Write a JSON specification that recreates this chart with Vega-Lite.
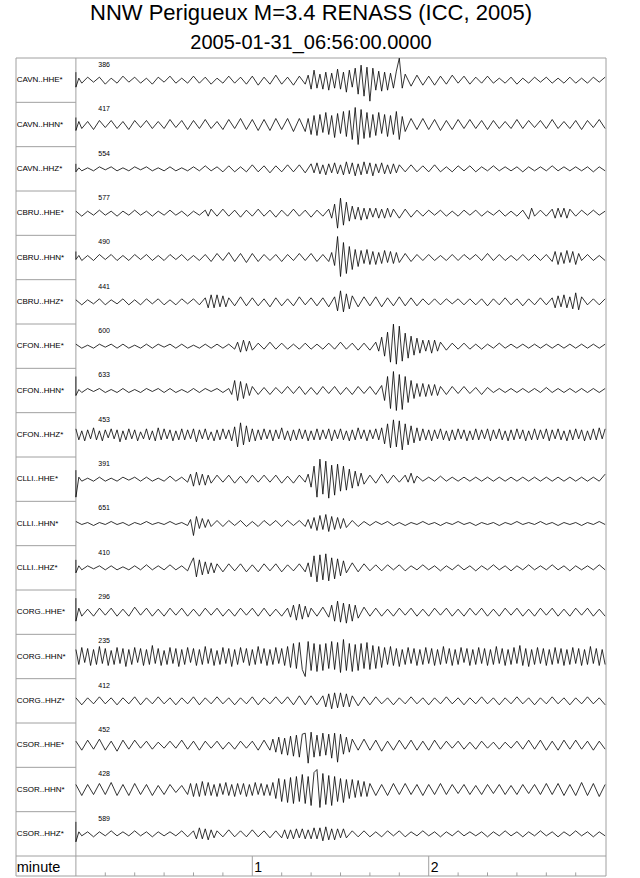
{
  "$schema": "https://vega.github.io/schema/vega-lite/v6.json",
  "width": 590,
  "height": 818,
  "autosize": {"type": "none"},
  "padding": {"left": 16, "top": 58, "right": 34, "bottom": 2},
  "background": "white",
  "title": {
    "text": "NNW Perigueux M=3.4 RENASS (ICC, 2005)",
    "subtitle": "2005-01-31_06:56:00.0000",
    "font": "Liberation Sans",
    "subtitleFont": "Liberation Sans",
    "fontSize": 22,
    "subtitleFontSize": 20,
    "fontWeight": "normal",
    "color": "#000",
    "subtitleColor": "#000",
    "anchor": "middle",
    "frame": "group",
    "offset": 4,
    "subtitlePadding": 8
  },
  "datasets": {
    "labels": [
      {"row": 0, "name": "CAVN..HHE*", "n": "386"},
      {"row": 1, "name": "CAVN..HHN*", "n": "417"},
      {"row": 2, "name": "CAVN..HHZ*", "n": "554"},
      {"row": 3, "name": "CBRU..HHE*", "n": "577"},
      {"row": 4, "name": "CBRU..HHN*", "n": "490"},
      {"row": 5, "name": "CBRU..HHZ*", "n": "441"},
      {"row": 6, "name": "CFON..HHE*", "n": "600"},
      {"row": 7, "name": "CFON..HHN*", "n": "633"},
      {"row": 8, "name": "CFON..HHZ*", "n": "453"},
      {"row": 9, "name": "CLLI..HHE*", "n": "391"},
      {"row": 10, "name": "CLLI..HHN*", "n": "651"},
      {"row": 11, "name": "CLLI..HHZ*", "n": "410"},
      {"row": 12, "name": "CORG..HHE*", "n": "296"},
      {"row": 13, "name": "CORG..HHN*", "n": "235"},
      {"row": 14, "name": "CORG..HHZ*", "n": "412"},
      {"row": 15, "name": "CSOR..HHE*", "n": "452"},
      {"row": 16, "name": "CSOR..HHN*", "n": "428"},
      {"row": 17, "name": "CSOR..HHZ*", "n": "589"}
    ],
    "minutes": [{"s": 60, "lab": "1"}, {"s": 120, "lab": "2"}],
    "ticks": [{"s": 10}, {"s": 20}, {"s": 30}, {"s": 40}, {"s": 50}, {"s": 70}, {"s": 80}, {"s": 90}, {"s": 100}, {"s": 110}, {"s": 130}, {"s": 140}, {"s": 150}, {"s": 160}, {"s": 170}],
    "d0": [{"t":0,"v":8},{"t":0,"v":-7},{"t":1,"v":2},{"t":2,"v":-3},{"t":4,"v":3},{"t":6,"v":-2},{"t":8,"v":3},{"t":10,"v":-4},{"t":12,"v":2},{"t":14,"v":-3},{"t":16,"v":4},{"t":18,"v":-2},{"t":20,"v":3},{"t":22,"v":-3},{"t":24,"v":2},{"t":26,"v":-4},{"t":28,"v":3},{"t":30,"v":-2},{"t":32,"v":4},{"t":34,"v":-3},{"t":36,"v":2},{"t":38,"v":-3},{"t":40,"v":4},{"t":42,"v":-3},{"t":44,"v":3},{"t":46,"v":-4},{"t":48,"v":2},{"t":50,"v":-3},{"t":52,"v":4},{"t":54,"v":-3},{"t":56,"v":3},{"t":58,"v":-4},{"t":60,"v":4},{"t":62,"v":-5},{"t":64,"v":3},{"t":66,"v":-4},{"t":68,"v":5},{"t":70,"v":-4},{"t":72,"v":3},{"t":74,"v":-5},{"t":76,"v":4},{"t":78,"v":-4},{"t":79,"v":5},{"t":80,"v":-9},{"t":81,"v":10},{"t":82,"v":-8},{"t":83,"v":6},{"t":84,"v":-9},{"t":85,"v":8},{"t":86,"v":-10},{"t":87,"v":7},{"t":88,"v":-8},{"t":89,"v":11},{"t":90,"v":-9},{"t":91,"v":8},{"t":92,"v":-12},{"t":93,"v":10},{"t":94,"v":-7},{"t":95,"v":12},{"t":96,"v":-14},{"t":97,"v":15},{"t":98,"v":-16},{"t":99,"v":13},{"t":100,"v":-21},{"t":101,"v":12},{"t":102,"v":-10},{"t":103,"v":9},{"t":104,"v":-11},{"t":105,"v":8},{"t":106,"v":-10},{"t":107,"v":7},{"t":108,"v":-8},{"t":109,"v":9},{"t":110,"v":22},{"t":111,"v":-8},{"t":112,"v":6},{"t":114,"v":-6},{"t":116,"v":5},{"t":118,"v":-5},{"t":120,"v":4},{"t":122,"v":-5},{"t":124,"v":4},{"t":126,"v":-4},{"t":128,"v":5},{"t":130,"v":-3},{"t":132,"v":4},{"t":134,"v":-4},{"t":136,"v":3},{"t":138,"v":-3},{"t":140,"v":4},{"t":142,"v":-3},{"t":144,"v":2},{"t":146,"v":-3},{"t":148,"v":3},{"t":150,"v":-4},{"t":152,"v":2},{"t":154,"v":-3},{"t":156,"v":3},{"t":158,"v":-2},{"t":160,"v":3},{"t":162,"v":-3},{"t":164,"v":2},{"t":166,"v":-3},{"t":168,"v":3},{"t":170,"v":-3},{"t":172,"v":2},{"t":174,"v":-3},{"t":176,"v":3},{"t":178,"v":-2},{"t":180,"v":3}],
    "d1": [{"t":0,"v":7},{"t":0,"v":-6},{"t":1,"v":3},{"t":2,"v":-4},{"t":4,"v":3},{"t":6,"v":-5},{"t":8,"v":4},{"t":10,"v":-3},{"t":12,"v":4},{"t":14,"v":-4},{"t":16,"v":3},{"t":18,"v":-5},{"t":20,"v":4},{"t":22,"v":-3},{"t":24,"v":4},{"t":26,"v":-4},{"t":28,"v":3},{"t":30,"v":-4},{"t":32,"v":5},{"t":34,"v":-3},{"t":36,"v":4},{"t":38,"v":-5},{"t":40,"v":4},{"t":42,"v":-4},{"t":44,"v":5},{"t":46,"v":-4},{"t":48,"v":3},{"t":50,"v":-5},{"t":52,"v":5},{"t":54,"v":-4},{"t":56,"v":6},{"t":58,"v":-5},{"t":60,"v":5},{"t":62,"v":-6},{"t":64,"v":5},{"t":66,"v":-6},{"t":68,"v":6},{"t":70,"v":-5},{"t":72,"v":6},{"t":74,"v":-7},{"t":76,"v":6},{"t":78,"v":-7},{"t":79,"v":6},{"t":80,"v":-10},{"t":81,"v":9},{"t":82,"v":-11},{"t":83,"v":10},{"t":84,"v":-8},{"t":85,"v":12},{"t":86,"v":-10},{"t":87,"v":9},{"t":88,"v":-13},{"t":89,"v":11},{"t":90,"v":-9},{"t":91,"v":13},{"t":92,"v":-12},{"t":93,"v":14},{"t":94,"v":-15},{"t":95,"v":17},{"t":96,"v":-20},{"t":97,"v":15},{"t":98,"v":-14},{"t":99,"v":12},{"t":100,"v":-13},{"t":101,"v":10},{"t":102,"v":-11},{"t":103,"v":12},{"t":104,"v":-9},{"t":105,"v":10},{"t":106,"v":-12},{"t":107,"v":9},{"t":108,"v":-10},{"t":109,"v":13},{"t":110,"v":-15},{"t":111,"v":8},{"t":112,"v":-7},{"t":114,"v":6},{"t":116,"v":-5},{"t":118,"v":6},{"t":120,"v":-5},{"t":122,"v":5},{"t":124,"v":-6},{"t":126,"v":4},{"t":128,"v":-5},{"t":130,"v":5},{"t":132,"v":-4},{"t":134,"v":5},{"t":136,"v":-4},{"t":138,"v":4},{"t":140,"v":-5},{"t":142,"v":4},{"t":144,"v":-4},{"t":146,"v":3},{"t":148,"v":-4},{"t":150,"v":5},{"t":152,"v":-4},{"t":154,"v":4},{"t":156,"v":-3},{"t":158,"v":4},{"t":160,"v":-4},{"t":162,"v":5},{"t":164,"v":-4},{"t":166,"v":3},{"t":168,"v":-4},{"t":170,"v":4},{"t":172,"v":-5},{"t":174,"v":4},{"t":176,"v":-3},{"t":178,"v":5},{"t":180,"v":-4}],
    "d2": [{"t":0,"v":5},{"t":0,"v":-3},{"t":1,"v":1},{"t":2,"v":-2},{"t":4,"v":1},{"t":6,"v":-2},{"t":8,"v":2},{"t":10,"v":-1},{"t":12,"v":2},{"t":14,"v":-2},{"t":16,"v":1},{"t":18,"v":-2},{"t":20,"v":2},{"t":22,"v":-1},{"t":24,"v":2},{"t":26,"v":-2},{"t":28,"v":1},{"t":30,"v":-2},{"t":32,"v":2},{"t":34,"v":-2},{"t":36,"v":1},{"t":38,"v":-2},{"t":40,"v":2},{"t":42,"v":-2},{"t":44,"v":3},{"t":46,"v":-2},{"t":48,"v":2},{"t":50,"v":-3},{"t":52,"v":3},{"t":54,"v":-3},{"t":56,"v":2},{"t":58,"v":-3},{"t":60,"v":4},{"t":62,"v":-3},{"t":64,"v":3},{"t":66,"v":-4},{"t":68,"v":3},{"t":70,"v":-3},{"t":72,"v":4},{"t":74,"v":-3},{"t":76,"v":4},{"t":78,"v":-4},{"t":80,"v":5},{"t":81,"v":-4},{"t":82,"v":6},{"t":83,"v":-5},{"t":84,"v":4},{"t":85,"v":-6},{"t":86,"v":5},{"t":87,"v":-4},{"t":88,"v":6},{"t":89,"v":-5},{"t":90,"v":4},{"t":91,"v":-6},{"t":92,"v":7},{"t":93,"v":-5},{"t":94,"v":6},{"t":95,"v":-7},{"t":96,"v":5},{"t":97,"v":-6},{"t":98,"v":7},{"t":99,"v":-5},{"t":100,"v":6},{"t":101,"v":-7},{"t":102,"v":5},{"t":103,"v":-4},{"t":104,"v":6},{"t":105,"v":-5},{"t":106,"v":4},{"t":107,"v":-5},{"t":108,"v":5},{"t":109,"v":-4},{"t":110,"v":4},{"t":112,"v":-3},{"t":114,"v":4},{"t":116,"v":-3},{"t":118,"v":3},{"t":120,"v":-3},{"t":122,"v":4},{"t":124,"v":-3},{"t":126,"v":2},{"t":128,"v":-3},{"t":130,"v":3},{"t":132,"v":-2},{"t":134,"v":3},{"t":136,"v":-3},{"t":138,"v":2},{"t":140,"v":-2},{"t":142,"v":3},{"t":144,"v":-2},{"t":146,"v":2},{"t":148,"v":-2},{"t":150,"v":2},{"t":152,"v":-3},{"t":154,"v":2},{"t":156,"v":-2},{"t":158,"v":2},{"t":160,"v":-2},{"t":162,"v":3},{"t":164,"v":-2},{"t":166,"v":2},{"t":168,"v":-2},{"t":170,"v":2},{"t":172,"v":-2},{"t":174,"v":2},{"t":176,"v":-3},{"t":178,"v":2},{"t":180,"v":-2}],
    "d3": [{"t":0,"v":2},{"t":2,"v":-3},{"t":4,"v":2},{"t":6,"v":-2},{"t":8,"v":3},{"t":10,"v":-2},{"t":12,"v":2},{"t":14,"v":-3},{"t":16,"v":2},{"t":18,"v":-2},{"t":20,"v":3},{"t":22,"v":-2},{"t":24,"v":2},{"t":26,"v":-3},{"t":28,"v":2},{"t":30,"v":-2},{"t":32,"v":3},{"t":34,"v":-2},{"t":36,"v":2},{"t":38,"v":-3},{"t":40,"v":2},{"t":42,"v":-2},{"t":44,"v":3},{"t":45,"v":-3},{"t":46,"v":4},{"t":48,"v":-3},{"t":50,"v":4},{"t":52,"v":-3},{"t":54,"v":3},{"t":56,"v":-4},{"t":58,"v":3},{"t":60,"v":-3},{"t":62,"v":4},{"t":64,"v":-3},{"t":66,"v":3},{"t":68,"v":-4},{"t":70,"v":3},{"t":72,"v":-3},{"t":74,"v":4},{"t":76,"v":-3},{"t":78,"v":3},{"t":80,"v":-4},{"t":82,"v":3},{"t":84,"v":-3},{"t":86,"v":4},{"t":87,"v":-5},{"t":88,"v":9},{"t":89,"v":-15},{"t":90,"v":15},{"t":91,"v":-12},{"t":92,"v":11},{"t":93,"v":-8},{"t":94,"v":7},{"t":95,"v":-6},{"t":96,"v":6},{"t":97,"v":-7},{"t":98,"v":5},{"t":99,"v":-6},{"t":100,"v":5},{"t":101,"v":-4},{"t":102,"v":5},{"t":103,"v":-5},{"t":104,"v":4},{"t":105,"v":-5},{"t":106,"v":5},{"t":107,"v":-4},{"t":108,"v":4},{"t":110,"v":-5},{"t":112,"v":4},{"t":114,"v":-4},{"t":116,"v":3},{"t":118,"v":-3},{"t":120,"v":3},{"t":122,"v":-2},{"t":124,"v":3},{"t":126,"v":-3},{"t":128,"v":2},{"t":130,"v":-3},{"t":132,"v":3},{"t":134,"v":-2},{"t":136,"v":3},{"t":138,"v":-3},{"t":140,"v":2},{"t":142,"v":-2},{"t":144,"v":3},{"t":146,"v":-3},{"t":148,"v":2},{"t":150,"v":-3},{"t":152,"v":3},{"t":154,"v":-6},{"t":155,"v":5},{"t":156,"v":-3},{"t":158,"v":3},{"t":160,"v":-3},{"t":162,"v":4},{"t":163,"v":-5},{"t":164,"v":5},{"t":165,"v":-4},{"t":166,"v":5},{"t":167,"v":-5},{"t":168,"v":4},{"t":170,"v":-3},{"t":172,"v":3},{"t":174,"v":-2},{"t":176,"v":3},{"t":178,"v":-2},{"t":180,"v":2}],
    "d4": [{"t":0,"v":6},{"t":0,"v":-2},{"t":1,"v":2},{"t":2,"v":-3},{"t":4,"v":2},{"t":6,"v":-3},{"t":8,"v":3},{"t":10,"v":-2},{"t":12,"v":3},{"t":14,"v":-3},{"t":16,"v":2},{"t":18,"v":-3},{"t":20,"v":3},{"t":22,"v":-2},{"t":24,"v":3},{"t":26,"v":-3},{"t":28,"v":2},{"t":30,"v":-3},{"t":32,"v":3},{"t":34,"v":-2},{"t":36,"v":3},{"t":38,"v":-3},{"t":40,"v":2},{"t":42,"v":-3},{"t":44,"v":3},{"t":46,"v":-4},{"t":48,"v":4},{"t":50,"v":-3},{"t":52,"v":5},{"t":54,"v":-4},{"t":56,"v":4},{"t":58,"v":-5},{"t":60,"v":4},{"t":62,"v":-4},{"t":64,"v":3},{"t":66,"v":-3},{"t":68,"v":3},{"t":70,"v":-4},{"t":72,"v":3},{"t":74,"v":-3},{"t":76,"v":4},{"t":78,"v":-3},{"t":80,"v":4},{"t":82,"v":-4},{"t":84,"v":3},{"t":86,"v":-4},{"t":87,"v":5},{"t":88,"v":-8},{"t":89,"v":21},{"t":90,"v":-19},{"t":91,"v":15},{"t":92,"v":-16},{"t":93,"v":11},{"t":94,"v":-12},{"t":95,"v":8},{"t":96,"v":-9},{"t":97,"v":7},{"t":98,"v":-6},{"t":99,"v":8},{"t":100,"v":-7},{"t":101,"v":6},{"t":102,"v":-7},{"t":103,"v":5},{"t":104,"v":-6},{"t":105,"v":7},{"t":106,"v":-5},{"t":107,"v":6},{"t":108,"v":-6},{"t":109,"v":5},{"t":110,"v":-5},{"t":112,"v":4},{"t":114,"v":-4},{"t":116,"v":3},{"t":118,"v":-3},{"t":120,"v":3},{"t":122,"v":-3},{"t":124,"v":2},{"t":126,"v":-3},{"t":128,"v":3},{"t":130,"v":-3},{"t":132,"v":3},{"t":134,"v":-2},{"t":136,"v":3},{"t":138,"v":-3},{"t":140,"v":4},{"t":142,"v":-3},{"t":144,"v":3},{"t":146,"v":-3},{"t":148,"v":2},{"t":150,"v":-3},{"t":152,"v":3},{"t":154,"v":-3},{"t":156,"v":3},{"t":158,"v":-3},{"t":160,"v":3},{"t":162,"v":-4},{"t":163,"v":6},{"t":164,"v":-7},{"t":165,"v":5},{"t":166,"v":-6},{"t":167,"v":7},{"t":168,"v":-5},{"t":169,"v":6},{"t":170,"v":-7},{"t":171,"v":4},{"t":172,"v":-3},{"t":174,"v":3},{"t":176,"v":-3},{"t":178,"v":2},{"t":180,"v":-3}],
    "d5": [{"t":0,"v":2},{"t":2,"v":-3},{"t":4,"v":2},{"t":6,"v":-2},{"t":8,"v":3},{"t":10,"v":-3},{"t":12,"v":2},{"t":14,"v":-2},{"t":16,"v":3},{"t":18,"v":-3},{"t":20,"v":2},{"t":22,"v":-3},{"t":24,"v":3},{"t":26,"v":-2},{"t":28,"v":3},{"t":30,"v":-3},{"t":32,"v":2},{"t":34,"v":-3},{"t":36,"v":3},{"t":38,"v":-2},{"t":40,"v":3},{"t":42,"v":-3},{"t":44,"v":4},{"t":45,"v":-6},{"t":46,"v":7},{"t":47,"v":-6},{"t":48,"v":7},{"t":49,"v":-5},{"t":50,"v":6},{"t":51,"v":-5},{"t":52,"v":4},{"t":54,"v":-4},{"t":56,"v":5},{"t":58,"v":-4},{"t":60,"v":4},{"t":62,"v":-4},{"t":64,"v":3},{"t":66,"v":-5},{"t":68,"v":4},{"t":70,"v":-4},{"t":72,"v":3},{"t":74,"v":-4},{"t":76,"v":5},{"t":78,"v":-3},{"t":80,"v":4},{"t":82,"v":-4},{"t":84,"v":4},{"t":86,"v":-5},{"t":88,"v":5},{"t":89,"v":-9},{"t":90,"v":11},{"t":91,"v":-10},{"t":92,"v":8},{"t":93,"v":-7},{"t":94,"v":6},{"t":96,"v":-5},{"t":98,"v":5},{"t":100,"v":-4},{"t":102,"v":5},{"t":104,"v":-5},{"t":106,"v":4},{"t":108,"v":-4},{"t":110,"v":5},{"t":112,"v":-4},{"t":114,"v":4},{"t":116,"v":-4},{"t":118,"v":3},{"t":120,"v":-3},{"t":122,"v":3},{"t":124,"v":-3},{"t":126,"v":3},{"t":128,"v":-2},{"t":130,"v":3},{"t":132,"v":-3},{"t":134,"v":3},{"t":136,"v":-3},{"t":138,"v":3},{"t":140,"v":-4},{"t":142,"v":3},{"t":144,"v":-3},{"t":146,"v":4},{"t":148,"v":-3},{"t":150,"v":3},{"t":152,"v":-4},{"t":154,"v":3},{"t":156,"v":-3},{"t":158,"v":4},{"t":160,"v":-3},{"t":162,"v":4},{"t":163,"v":-6},{"t":164,"v":6},{"t":165,"v":-5},{"t":166,"v":7},{"t":167,"v":-6},{"t":168,"v":5},{"t":169,"v":-7},{"t":170,"v":9},{"t":171,"v":-8},{"t":172,"v":5},{"t":174,"v":-3},{"t":176,"v":3},{"t":178,"v":-3},{"t":180,"v":3}],
    "d6": [{"t":0,"v":2},{"t":2,"v":-2},{"t":4,"v":1},{"t":6,"v":-2},{"t":8,"v":2},{"t":10,"v":-1},{"t":12,"v":2},{"t":14,"v":-2},{"t":16,"v":2},{"t":18,"v":-2},{"t":20,"v":1},{"t":22,"v":-2},{"t":24,"v":2},{"t":26,"v":-2},{"t":28,"v":2},{"t":30,"v":-1},{"t":32,"v":2},{"t":34,"v":-2},{"t":36,"v":2},{"t":38,"v":-2},{"t":40,"v":1},{"t":42,"v":-2},{"t":44,"v":2},{"t":46,"v":-2},{"t":48,"v":2},{"t":50,"v":-2},{"t":52,"v":2},{"t":54,"v":-3},{"t":55,"v":4},{"t":56,"v":-6},{"t":57,"v":6},{"t":58,"v":-5},{"t":59,"v":5},{"t":60,"v":-4},{"t":62,"v":3},{"t":64,"v":-3},{"t":66,"v":4},{"t":68,"v":-3},{"t":70,"v":3},{"t":72,"v":-3},{"t":74,"v":2},{"t":76,"v":-3},{"t":78,"v":3},{"t":80,"v":-3},{"t":82,"v":2},{"t":84,"v":-3},{"t":86,"v":3},{"t":88,"v":-3},{"t":90,"v":4},{"t":92,"v":-3},{"t":94,"v":3},{"t":96,"v":-4},{"t":98,"v":3},{"t":100,"v":-4},{"t":102,"v":4},{"t":103,"v":-5},{"t":104,"v":9},{"t":105,"v":-10},{"t":106,"v":14},{"t":107,"v":-16},{"t":108,"v":22},{"t":109,"v":-18},{"t":110,"v":20},{"t":111,"v":-15},{"t":112,"v":13},{"t":113,"v":-12},{"t":114,"v":10},{"t":115,"v":-9},{"t":116,"v":8},{"t":117,"v":-7},{"t":118,"v":6},{"t":119,"v":-5},{"t":120,"v":6},{"t":121,"v":-7},{"t":122,"v":6},{"t":123,"v":-5},{"t":124,"v":4},{"t":126,"v":-4},{"t":128,"v":3},{"t":130,"v":-3},{"t":132,"v":3},{"t":134,"v":-3},{"t":136,"v":2},{"t":138,"v":-3},{"t":140,"v":2},{"t":142,"v":-2},{"t":144,"v":3},{"t":146,"v":-2},{"t":148,"v":2},{"t":150,"v":-2},{"t":152,"v":2},{"t":154,"v":-2},{"t":156,"v":2},{"t":158,"v":-2},{"t":160,"v":2},{"t":162,"v":-2},{"t":164,"v":2},{"t":166,"v":-2},{"t":168,"v":2},{"t":170,"v":-2},{"t":172,"v":2},{"t":174,"v":-2},{"t":176,"v":2},{"t":178,"v":-2},{"t":180,"v":2}],
    "d7": [{"t":0,"v":14},{"t":0,"v":-5},{"t":1,"v":1},{"t":2,"v":-2},{"t":4,"v":2},{"t":6,"v":-1},{"t":8,"v":2},{"t":10,"v":-2},{"t":12,"v":1},{"t":14,"v":-2},{"t":16,"v":2},{"t":18,"v":-2},{"t":20,"v":1},{"t":22,"v":-2},{"t":24,"v":2},{"t":26,"v":-1},{"t":28,"v":2},{"t":30,"v":-2},{"t":32,"v":2},{"t":34,"v":-2},{"t":36,"v":1},{"t":38,"v":-2},{"t":40,"v":2},{"t":42,"v":-2},{"t":44,"v":2},{"t":46,"v":-1},{"t":48,"v":2},{"t":50,"v":-2},{"t":52,"v":2},{"t":53,"v":-4},{"t":54,"v":10},{"t":55,"v":-10},{"t":56,"v":9},{"t":57,"v":-8},{"t":58,"v":7},{"t":59,"v":-5},{"t":60,"v":4},{"t":62,"v":-4},{"t":64,"v":3},{"t":66,"v":-4},{"t":68,"v":3},{"t":70,"v":-3},{"t":72,"v":4},{"t":74,"v":-3},{"t":76,"v":4},{"t":78,"v":-4},{"t":80,"v":3},{"t":82,"v":-4},{"t":84,"v":4},{"t":86,"v":-3},{"t":88,"v":4},{"t":90,"v":-4},{"t":92,"v":3},{"t":94,"v":-4},{"t":96,"v":4},{"t":98,"v":-3},{"t":100,"v":4},{"t":102,"v":-4},{"t":104,"v":5},{"t":105,"v":-10},{"t":106,"v":14},{"t":107,"v":-18},{"t":108,"v":19},{"t":109,"v":-20},{"t":110,"v":16},{"t":111,"v":-19},{"t":112,"v":14},{"t":113,"v":-12},{"t":114,"v":10},{"t":115,"v":-8},{"t":116,"v":7},{"t":117,"v":-6},{"t":118,"v":7},{"t":119,"v":-6},{"t":120,"v":6},{"t":121,"v":-5},{"t":122,"v":6},{"t":123,"v":-5},{"t":124,"v":4},{"t":126,"v":-4},{"t":128,"v":4},{"t":130,"v":-3},{"t":132,"v":4},{"t":134,"v":-3},{"t":136,"v":3},{"t":138,"v":-4},{"t":140,"v":3},{"t":142,"v":-2},{"t":144,"v":2},{"t":146,"v":-2},{"t":148,"v":2},{"t":150,"v":-2},{"t":152,"v":2},{"t":154,"v":-2},{"t":156,"v":2},{"t":158,"v":-2},{"t":160,"v":3},{"t":162,"v":-2},{"t":164,"v":2},{"t":166,"v":-2},{"t":168,"v":2},{"t":170,"v":-2},{"t":172,"v":2},{"t":174,"v":-2},{"t":176,"v":2},{"t":178,"v":-2},{"t":180,"v":2}],
    "d8": [{"t":0,"v":6},{"t":1,"v":-5},{"t":2,"v":4},{"t":3,"v":-6},{"t":4,"v":5},{"t":5,"v":-4},{"t":6,"v":7},{"t":7,"v":-5},{"t":8,"v":4},{"t":9,"v":-6},{"t":10,"v":5},{"t":11,"v":-3},{"t":12,"v":6},{"t":13,"v":-4},{"t":14,"v":5},{"t":15,"v":-7},{"t":16,"v":4},{"t":17,"v":-5},{"t":18,"v":6},{"t":19,"v":-4},{"t":20,"v":5},{"t":21,"v":-6},{"t":22,"v":3},{"t":23,"v":-4},{"t":24,"v":6},{"t":25,"v":-5},{"t":26,"v":4},{"t":27,"v":-6},{"t":28,"v":7},{"t":29,"v":-5},{"t":30,"v":6},{"t":31,"v":-4},{"t":32,"v":5},{"t":33,"v":-6},{"t":34,"v":4},{"t":35,"v":-5},{"t":36,"v":6},{"t":37,"v":-5},{"t":38,"v":5},{"t":39,"v":-4},{"t":40,"v":6},{"t":41,"v":-7},{"t":42,"v":5},{"t":43,"v":-4},{"t":44,"v":6},{"t":45,"v":-5},{"t":46,"v":3},{"t":47,"v":-6},{"t":48,"v":5},{"t":49,"v":-5},{"t":50,"v":6},{"t":51,"v":-4},{"t":52,"v":5},{"t":53,"v":-6},{"t":54,"v":8},{"t":55,"v":-12},{"t":56,"v":12},{"t":57,"v":-10},{"t":58,"v":9},{"t":59,"v":-7},{"t":60,"v":6},{"t":61,"v":-6},{"t":62,"v":5},{"t":63,"v":-5},{"t":64,"v":6},{"t":65,"v":-4},{"t":66,"v":5},{"t":67,"v":-6},{"t":68,"v":5},{"t":69,"v":-4},{"t":70,"v":7},{"t":71,"v":-5},{"t":72,"v":4},{"t":73,"v":-6},{"t":74,"v":5},{"t":75,"v":-5},{"t":76,"v":6},{"t":77,"v":-4},{"t":78,"v":5},{"t":79,"v":-6},{"t":80,"v":4},{"t":81,"v":-5},{"t":82,"v":6},{"t":83,"v":-5},{"t":84,"v":5},{"t":85,"v":-4},{"t":86,"v":6},{"t":87,"v":-6},{"t":88,"v":5},{"t":89,"v":-4},{"t":90,"v":6},{"t":91,"v":-5},{"t":92,"v":4},{"t":93,"v":-6},{"t":94,"v":5},{"t":95,"v":-5},{"t":96,"v":7},{"t":97,"v":-4},{"t":98,"v":5},{"t":99,"v":-6},{"t":100,"v":5},{"t":101,"v":-4},{"t":102,"v":6},{"t":103,"v":-5},{"t":104,"v":7},{"t":105,"v":-9},{"t":106,"v":11},{"t":107,"v":-13},{"t":108,"v":15},{"t":109,"v":-12},{"t":110,"v":14},{"t":111,"v":-15},{"t":112,"v":11},{"t":113,"v":-10},{"t":114,"v":9},{"t":115,"v":-8},{"t":116,"v":7},{"t":117,"v":-6},{"t":118,"v":6},{"t":119,"v":-5},{"t":120,"v":5},{"t":121,"v":-6},{"t":122,"v":5},{"t":123,"v":-4},{"t":124,"v":6},{"t":125,"v":-5},{"t":126,"v":4},{"t":127,"v":-6},{"t":128,"v":5},{"t":129,"v":-5},{"t":130,"v":6},{"t":131,"v":-4},{"t":132,"v":5},{"t":133,"v":-6},{"t":134,"v":4},{"t":135,"v":-5},{"t":136,"v":6},{"t":137,"v":-5},{"t":138,"v":5},{"t":139,"v":-4},{"t":140,"v":6},{"t":141,"v":-6},{"t":142,"v":5},{"t":143,"v":-4},{"t":144,"v":6},{"t":145,"v":-5},{"t":146,"v":4},{"t":147,"v":-6},{"t":148,"v":5},{"t":149,"v":-5},{"t":150,"v":6},{"t":151,"v":-4},{"t":152,"v":5},{"t":153,"v":-6},{"t":154,"v":4},{"t":155,"v":-5},{"t":156,"v":6},{"t":157,"v":-5},{"t":158,"v":5},{"t":159,"v":-4},{"t":160,"v":6},{"t":161,"v":-6},{"t":162,"v":5},{"t":163,"v":-4},{"t":164,"v":6},{"t":165,"v":-5},{"t":166,"v":4},{"t":167,"v":-6},{"t":168,"v":5},{"t":169,"v":-5},{"t":170,"v":6},{"t":171,"v":-4},{"t":172,"v":5},{"t":173,"v":-6},{"t":174,"v":4},{"t":175,"v":-5},{"t":176,"v":6},{"t":177,"v":-5},{"t":178,"v":7},{"t":179,"v":-4},{"t":180,"v":6}],
    "d9": [{"t":0,"v":9},{"t":0,"v":-18},{"t":1,"v":2},{"t":2,"v":-2},{"t":4,"v":1},{"t":6,"v":-2},{"t":8,"v":2},{"t":10,"v":-2},{"t":12,"v":1},{"t":14,"v":-2},{"t":16,"v":2},{"t":18,"v":-1},{"t":20,"v":2},{"t":22,"v":-2},{"t":24,"v":2},{"t":26,"v":-2},{"t":28,"v":1},{"t":30,"v":-2},{"t":32,"v":3},{"t":34,"v":-2},{"t":36,"v":2},{"t":38,"v":-3},{"t":39,"v":5},{"t":40,"v":-7},{"t":41,"v":7},{"t":42,"v":-6},{"t":43,"v":5},{"t":44,"v":-6},{"t":45,"v":4},{"t":46,"v":-4},{"t":48,"v":4},{"t":50,"v":-3},{"t":52,"v":4},{"t":54,"v":-4},{"t":56,"v":3},{"t":58,"v":-4},{"t":60,"v":4},{"t":62,"v":-3},{"t":64,"v":4},{"t":66,"v":-3},{"t":68,"v":4},{"t":70,"v":-4},{"t":72,"v":3},{"t":74,"v":-4},{"t":76,"v":4},{"t":78,"v":-3},{"t":79,"v":5},{"t":80,"v":-8},{"t":81,"v":13},{"t":82,"v":-18},{"t":83,"v":20},{"t":84,"v":-15},{"t":85,"v":18},{"t":86,"v":-19},{"t":87,"v":14},{"t":88,"v":-16},{"t":89,"v":15},{"t":90,"v":-12},{"t":91,"v":13},{"t":92,"v":-11},{"t":93,"v":10},{"t":94,"v":-9},{"t":95,"v":8},{"t":96,"v":-7},{"t":97,"v":6},{"t":98,"v":-5},{"t":100,"v":4},{"t":102,"v":-4},{"t":104,"v":5},{"t":106,"v":-4},{"t":108,"v":4},{"t":110,"v":-3},{"t":112,"v":4},{"t":113,"v":-3},{"t":114,"v":6},{"t":115,"v":-4},{"t":116,"v":3},{"t":118,"v":-2},{"t":120,"v":2},{"t":122,"v":-2},{"t":124,"v":3},{"t":126,"v":-2},{"t":128,"v":2},{"t":130,"v":-2},{"t":132,"v":2},{"t":134,"v":-2},{"t":136,"v":2},{"t":138,"v":-2},{"t":140,"v":2},{"t":142,"v":-2},{"t":144,"v":2},{"t":146,"v":-2},{"t":148,"v":2},{"t":150,"v":-2},{"t":152,"v":2},{"t":154,"v":-2},{"t":156,"v":2},{"t":158,"v":-2},{"t":160,"v":2},{"t":162,"v":-2},{"t":164,"v":2},{"t":166,"v":-2},{"t":168,"v":2},{"t":170,"v":-2},{"t":172,"v":2},{"t":174,"v":-2},{"t":176,"v":2},{"t":178,"v":-2},{"t":180,"v":5}],
    "d10": [{"t":0,"v":2},{"t":2,"v":-1},{"t":4,"v":1},{"t":6,"v":-2},{"t":8,"v":1},{"t":10,"v":-1},{"t":12,"v":2},{"t":14,"v":-1},{"t":16,"v":1},{"t":18,"v":-2},{"t":20,"v":1},{"t":22,"v":-1},{"t":24,"v":2},{"t":26,"v":-1},{"t":28,"v":1},{"t":30,"v":-1},{"t":32,"v":2},{"t":34,"v":-1},{"t":36,"v":1},{"t":38,"v":-2},{"t":39,"v":4},{"t":40,"v":-12},{"t":41,"v":7},{"t":42,"v":-5},{"t":43,"v":5},{"t":44,"v":-4},{"t":45,"v":4},{"t":46,"v":-3},{"t":48,"v":3},{"t":50,"v":-3},{"t":52,"v":3},{"t":54,"v":-2},{"t":56,"v":3},{"t":58,"v":-3},{"t":60,"v":2},{"t":62,"v":-3},{"t":64,"v":3},{"t":66,"v":-2},{"t":68,"v":3},{"t":70,"v":-3},{"t":72,"v":3},{"t":74,"v":-2},{"t":76,"v":3},{"t":78,"v":-3},{"t":79,"v":4},{"t":80,"v":-5},{"t":81,"v":6},{"t":82,"v":-7},{"t":83,"v":8},{"t":84,"v":-6},{"t":85,"v":9},{"t":86,"v":-8},{"t":87,"v":7},{"t":88,"v":-6},{"t":89,"v":6},{"t":90,"v":-5},{"t":91,"v":5},{"t":92,"v":-4},{"t":94,"v":3},{"t":96,"v":-3},{"t":98,"v":2},{"t":100,"v":-2},{"t":102,"v":2},{"t":104,"v":-1},{"t":106,"v":2},{"t":108,"v":-2},{"t":110,"v":1},{"t":112,"v":-2},{"t":114,"v":1},{"t":116,"v":-1},{"t":118,"v":2},{"t":120,"v":-1},{"t":122,"v":1},{"t":124,"v":-2},{"t":126,"v":1},{"t":128,"v":-1},{"t":130,"v":2},{"t":132,"v":-1},{"t":134,"v":1},{"t":136,"v":-2},{"t":138,"v":1},{"t":140,"v":-1},{"t":142,"v":1},{"t":144,"v":-2},{"t":146,"v":1},{"t":148,"v":-1},{"t":150,"v":2},{"t":152,"v":-1},{"t":154,"v":1},{"t":156,"v":-1},{"t":158,"v":2},{"t":160,"v":-1},{"t":162,"v":1},{"t":164,"v":-2},{"t":166,"v":1},{"t":168,"v":-1},{"t":170,"v":1},{"t":172,"v":-2},{"t":174,"v":1},{"t":176,"v":-1},{"t":178,"v":2},{"t":180,"v":-1}],
    "d11": [{"t":0,"v":8},{"t":0,"v":-5},{"t":1,"v":2},{"t":2,"v":-2},{"t":4,"v":2},{"t":6,"v":-1},{"t":8,"v":2},{"t":10,"v":-2},{"t":12,"v":2},{"t":14,"v":-2},{"t":16,"v":1},{"t":18,"v":-2},{"t":20,"v":2},{"t":22,"v":-2},{"t":24,"v":3},{"t":26,"v":-2},{"t":28,"v":2},{"t":30,"v":-2},{"t":32,"v":3},{"t":34,"v":-2},{"t":36,"v":2},{"t":38,"v":-3},{"t":39,"v":4},{"t":40,"v":10},{"t":41,"v":-9},{"t":42,"v":8},{"t":43,"v":-7},{"t":44,"v":6},{"t":45,"v":-6},{"t":46,"v":5},{"t":47,"v":-5},{"t":48,"v":4},{"t":50,"v":-4},{"t":52,"v":4},{"t":54,"v":-3},{"t":56,"v":4},{"t":58,"v":-4},{"t":60,"v":3},{"t":62,"v":-4},{"t":64,"v":4},{"t":66,"v":-3},{"t":68,"v":4},{"t":70,"v":-4},{"t":72,"v":3},{"t":74,"v":-3},{"t":76,"v":4},{"t":78,"v":-4},{"t":79,"v":5},{"t":80,"v":-9},{"t":81,"v":12},{"t":82,"v":-14},{"t":83,"v":13},{"t":84,"v":-12},{"t":85,"v":14},{"t":86,"v":-13},{"t":87,"v":10},{"t":88,"v":-11},{"t":89,"v":9},{"t":90,"v":-8},{"t":91,"v":7},{"t":92,"v":-5},{"t":94,"v":5},{"t":96,"v":-4},{"t":98,"v":4},{"t":100,"v":-3},{"t":102,"v":3},{"t":104,"v":-3},{"t":106,"v":3},{"t":108,"v":-2},{"t":110,"v":3},{"t":112,"v":-3},{"t":114,"v":2},{"t":116,"v":-2},{"t":118,"v":3},{"t":120,"v":-2},{"t":122,"v":2},{"t":124,"v":-3},{"t":126,"v":2},{"t":128,"v":-2},{"t":130,"v":3},{"t":132,"v":-2},{"t":134,"v":2},{"t":136,"v":-3},{"t":138,"v":2},{"t":140,"v":-2},{"t":142,"v":3},{"t":144,"v":-2},{"t":146,"v":2},{"t":148,"v":-3},{"t":150,"v":2},{"t":152,"v":-2},{"t":154,"v":3},{"t":156,"v":-2},{"t":158,"v":2},{"t":160,"v":-2},{"t":162,"v":3},{"t":164,"v":-2},{"t":166,"v":2},{"t":168,"v":-3},{"t":170,"v":2},{"t":172,"v":-2},{"t":174,"v":2},{"t":176,"v":-2},{"t":178,"v":3},{"t":180,"v":-2}],
    "d12": [{"t":0,"v":14},{"t":0,"v":-9},{"t":1,"v":4},{"t":2,"v":-4},{"t":4,"v":3},{"t":6,"v":-4},{"t":8,"v":4},{"t":10,"v":-3},{"t":12,"v":4},{"t":14,"v":-4},{"t":16,"v":3},{"t":18,"v":-4},{"t":20,"v":5},{"t":22,"v":-3},{"t":24,"v":4},{"t":26,"v":-4},{"t":28,"v":3},{"t":30,"v":-4},{"t":32,"v":4},{"t":34,"v":-3},{"t":36,"v":4},{"t":38,"v":-4},{"t":40,"v":3},{"t":42,"v":-4},{"t":44,"v":4},{"t":46,"v":-3},{"t":48,"v":4},{"t":50,"v":-4},{"t":52,"v":3},{"t":54,"v":-4},{"t":56,"v":4},{"t":58,"v":-3},{"t":60,"v":4},{"t":62,"v":-4},{"t":64,"v":4},{"t":66,"v":-4},{"t":68,"v":3},{"t":70,"v":-4},{"t":72,"v":4},{"t":73,"v":-5},{"t":74,"v":7},{"t":75,"v":-8},{"t":76,"v":8},{"t":77,"v":-7},{"t":78,"v":6},{"t":79,"v":-5},{"t":80,"v":4},{"t":82,"v":-4},{"t":84,"v":5},{"t":86,"v":-5},{"t":87,"v":7},{"t":88,"v":-9},{"t":89,"v":11},{"t":90,"v":-10},{"t":91,"v":9},{"t":92,"v":-11},{"t":93,"v":8},{"t":94,"v":-9},{"t":95,"v":7},{"t":96,"v":-6},{"t":98,"v":5},{"t":100,"v":-4},{"t":102,"v":4},{"t":104,"v":-4},{"t":106,"v":3},{"t":108,"v":-4},{"t":110,"v":4},{"t":112,"v":-3},{"t":114,"v":4},{"t":116,"v":-4},{"t":118,"v":3},{"t":120,"v":-4},{"t":122,"v":4},{"t":124,"v":-3},{"t":126,"v":4},{"t":128,"v":-4},{"t":130,"v":3},{"t":132,"v":-4},{"t":134,"v":4},{"t":136,"v":-3},{"t":138,"v":4},{"t":140,"v":-4},{"t":142,"v":3},{"t":144,"v":-4},{"t":146,"v":4},{"t":148,"v":-3},{"t":150,"v":4},{"t":152,"v":-4},{"t":154,"v":3},{"t":156,"v":-4},{"t":158,"v":4},{"t":160,"v":-3},{"t":162,"v":4},{"t":164,"v":-4},{"t":166,"v":3},{"t":168,"v":-4},{"t":170,"v":4},{"t":172,"v":-3},{"t":174,"v":4},{"t":176,"v":-4},{"t":178,"v":3},{"t":180,"v":-4}],
    "d13": [{"t":0,"v":7},{"t":1,"v":-8},{"t":2,"v":9},{"t":3,"v":-6},{"t":4,"v":8},{"t":5,"v":-9},{"t":6,"v":7},{"t":7,"v":-8},{"t":8,"v":10},{"t":9,"v":-7},{"t":10,"v":8},{"t":11,"v":-9},{"t":12,"v":6},{"t":13,"v":-8},{"t":14,"v":9},{"t":15,"v":-7},{"t":16,"v":8},{"t":17,"v":-10},{"t":18,"v":7},{"t":19,"v":-8},{"t":20,"v":9},{"t":21,"v":-6},{"t":22,"v":8},{"t":23,"v":-9},{"t":24,"v":7},{"t":25,"v":-8},{"t":26,"v":11},{"t":27,"v":-7},{"t":28,"v":8},{"t":29,"v":-9},{"t":30,"v":6},{"t":31,"v":-8},{"t":32,"v":9},{"t":33,"v":-7},{"t":34,"v":8},{"t":35,"v":-10},{"t":36,"v":7},{"t":37,"v":-8},{"t":38,"v":9},{"t":39,"v":-6},{"t":40,"v":8},{"t":41,"v":-9},{"t":42,"v":7},{"t":43,"v":-8},{"t":44,"v":10},{"t":45,"v":-7},{"t":46,"v":8},{"t":47,"v":-9},{"t":48,"v":6},{"t":49,"v":-8},{"t":50,"v":9},{"t":51,"v":-7},{"t":52,"v":8},{"t":53,"v":-10},{"t":54,"v":7},{"t":55,"v":-8},{"t":56,"v":9},{"t":57,"v":-6},{"t":58,"v":8},{"t":59,"v":-9},{"t":60,"v":7},{"t":61,"v":-8},{"t":62,"v":10},{"t":63,"v":-7},{"t":64,"v":8},{"t":65,"v":-9},{"t":66,"v":7},{"t":67,"v":-8},{"t":68,"v":9},{"t":69,"v":-7},{"t":70,"v":8},{"t":71,"v":-9},{"t":72,"v":10},{"t":73,"v":-11},{"t":74,"v":13},{"t":75,"v":-12},{"t":76,"v":14},{"t":77,"v":-13},{"t":78,"v":-20},{"t":79,"v":15},{"t":80,"v":-14},{"t":81,"v":13},{"t":82,"v":-15},{"t":83,"v":12},{"t":84,"v":-14},{"t":85,"v":13},{"t":86,"v":-12},{"t":87,"v":15},{"t":88,"v":-13},{"t":89,"v":14},{"t":90,"v":-16},{"t":91,"v":17},{"t":92,"v":-14},{"t":93,"v":13},{"t":94,"v":-15},{"t":95,"v":12},{"t":96,"v":-14},{"t":97,"v":13},{"t":98,"v":-12},{"t":99,"v":14},{"t":100,"v":-13},{"t":101,"v":11},{"t":102,"v":-12},{"t":103,"v":10},{"t":104,"v":-11},{"t":105,"v":9},{"t":106,"v":-8},{"t":107,"v":10},{"t":108,"v":-9},{"t":109,"v":8},{"t":110,"v":-10},{"t":111,"v":7},{"t":112,"v":-8},{"t":113,"v":9},{"t":114,"v":-7},{"t":115,"v":8},{"t":116,"v":-9},{"t":117,"v":7},{"t":118,"v":-8},{"t":119,"v":9},{"t":120,"v":-7},{"t":121,"v":8},{"t":122,"v":-9},{"t":123,"v":7},{"t":124,"v":-8},{"t":125,"v":10},{"t":126,"v":-7},{"t":127,"v":8},{"t":128,"v":-9},{"t":129,"v":7},{"t":130,"v":-8},{"t":131,"v":9},{"t":132,"v":-6},{"t":133,"v":8},{"t":134,"v":-9},{"t":135,"v":7},{"t":136,"v":-8},{"t":137,"v":9},{"t":138,"v":-7},{"t":139,"v":8},{"t":140,"v":-9},{"t":141,"v":7},{"t":142,"v":-8},{"t":143,"v":10},{"t":144,"v":-7},{"t":145,"v":8},{"t":146,"v":-9},{"t":147,"v":7},{"t":148,"v":-8},{"t":149,"v":9},{"t":150,"v":-7},{"t":151,"v":11},{"t":152,"v":-9},{"t":153,"v":8},{"t":154,"v":-10},{"t":155,"v":7},{"t":156,"v":-8},{"t":157,"v":9},{"t":158,"v":-7},{"t":159,"v":8},{"t":160,"v":-9},{"t":161,"v":7},{"t":162,"v":-8},{"t":163,"v":9},{"t":164,"v":-7},{"t":165,"v":8},{"t":166,"v":-9},{"t":167,"v":7},{"t":168,"v":-8},{"t":169,"v":9},{"t":170,"v":-7},{"t":171,"v":8},{"t":172,"v":-9},{"t":173,"v":7},{"t":174,"v":-8},{"t":175,"v":10},{"t":176,"v":-7},{"t":177,"v":8},{"t":178,"v":-9},{"t":179,"v":7},{"t":180,"v":-8}],
    "d14": [{"t":0,"v":3},{"t":2,"v":-4},{"t":4,"v":3},{"t":6,"v":-3},{"t":8,"v":4},{"t":10,"v":-3},{"t":12,"v":3},{"t":14,"v":-4},{"t":16,"v":3},{"t":18,"v":-3},{"t":20,"v":4},{"t":22,"v":-4},{"t":24,"v":3},{"t":26,"v":-3},{"t":28,"v":4},{"t":30,"v":-3},{"t":32,"v":3},{"t":34,"v":-4},{"t":36,"v":3},{"t":38,"v":-3},{"t":40,"v":4},{"t":42,"v":-4},{"t":44,"v":3},{"t":46,"v":-3},{"t":48,"v":4},{"t":50,"v":-3},{"t":52,"v":3},{"t":54,"v":-4},{"t":56,"v":3},{"t":58,"v":-3},{"t":60,"v":4},{"t":62,"v":-4},{"t":64,"v":3},{"t":66,"v":-3},{"t":68,"v":4},{"t":70,"v":-3},{"t":72,"v":4},{"t":74,"v":-4},{"t":76,"v":5},{"t":78,"v":-4},{"t":80,"v":5},{"t":82,"v":-4},{"t":84,"v":5},{"t":85,"v":-6},{"t":86,"v":7},{"t":87,"v":-8},{"t":88,"v":8},{"t":89,"v":-7},{"t":90,"v":8},{"t":91,"v":-6},{"t":92,"v":7},{"t":93,"v":-6},{"t":94,"v":5},{"t":96,"v":-5},{"t":98,"v":4},{"t":100,"v":-4},{"t":102,"v":4},{"t":104,"v":-3},{"t":106,"v":3},{"t":108,"v":-4},{"t":110,"v":3},{"t":112,"v":-3},{"t":114,"v":4},{"t":116,"v":-3},{"t":118,"v":3},{"t":120,"v":-4},{"t":122,"v":3},{"t":124,"v":-3},{"t":126,"v":4},{"t":128,"v":-3},{"t":130,"v":3},{"t":132,"v":-4},{"t":134,"v":3},{"t":136,"v":-3},{"t":138,"v":4},{"t":140,"v":-3},{"t":142,"v":3},{"t":144,"v":-4},{"t":146,"v":3},{"t":148,"v":-3},{"t":150,"v":4},{"t":152,"v":-3},{"t":154,"v":3},{"t":156,"v":-4},{"t":158,"v":3},{"t":160,"v":-3},{"t":162,"v":4},{"t":164,"v":-3},{"t":166,"v":3},{"t":168,"v":-4},{"t":170,"v":3},{"t":172,"v":-3},{"t":174,"v":4},{"t":176,"v":-3},{"t":178,"v":3},{"t":180,"v":-4}],
    "d15": [{"t":0,"v":4},{"t":2,"v":-5},{"t":4,"v":5},{"t":6,"v":-4},{"t":8,"v":6},{"t":10,"v":-5},{"t":12,"v":4},{"t":14,"v":-6},{"t":16,"v":5},{"t":18,"v":-4},{"t":20,"v":5},{"t":22,"v":-3},{"t":24,"v":4},{"t":26,"v":-4},{"t":28,"v":3},{"t":30,"v":-3},{"t":32,"v":4},{"t":34,"v":-3},{"t":36,"v":5},{"t":38,"v":-4},{"t":40,"v":4},{"t":42,"v":-5},{"t":44,"v":4},{"t":46,"v":-3},{"t":48,"v":4},{"t":50,"v":-4},{"t":52,"v":3},{"t":54,"v":-4},{"t":56,"v":4},{"t":58,"v":-3},{"t":60,"v":4},{"t":62,"v":-5},{"t":64,"v":5},{"t":66,"v":-5},{"t":67,"v":6},{"t":68,"v":-7},{"t":69,"v":8},{"t":70,"v":-9},{"t":71,"v":7},{"t":72,"v":-10},{"t":73,"v":9},{"t":74,"v":-11},{"t":75,"v":10},{"t":76,"v":-12},{"t":77,"v":11},{"t":78,"v":12},{"t":79,"v":-18},{"t":80,"v":13},{"t":81,"v":-12},{"t":82,"v":10},{"t":83,"v":-11},{"t":84,"v":12},{"t":85,"v":-10},{"t":86,"v":11},{"t":87,"v":-13},{"t":88,"v":12},{"t":89,"v":-17},{"t":90,"v":11},{"t":91,"v":-9},{"t":92,"v":8},{"t":93,"v":-7},{"t":94,"v":6},{"t":96,"v":-5},{"t":98,"v":6},{"t":100,"v":-5},{"t":102,"v":5},{"t":104,"v":-6},{"t":106,"v":4},{"t":108,"v":-5},{"t":110,"v":5},{"t":112,"v":-4},{"t":114,"v":5},{"t":116,"v":-5},{"t":118,"v":4},{"t":120,"v":-5},{"t":122,"v":5},{"t":124,"v":-4},{"t":126,"v":4},{"t":128,"v":-3},{"t":130,"v":4},{"t":132,"v":-4},{"t":134,"v":3},{"t":136,"v":-4},{"t":138,"v":4},{"t":140,"v":-3},{"t":142,"v":3},{"t":144,"v":-4},{"t":146,"v":3},{"t":148,"v":-3},{"t":150,"v":4},{"t":152,"v":-4},{"t":154,"v":5},{"t":156,"v":-4},{"t":158,"v":5},{"t":160,"v":-5},{"t":162,"v":4},{"t":164,"v":-5},{"t":166,"v":5},{"t":168,"v":-4},{"t":170,"v":5},{"t":172,"v":-4},{"t":174,"v":4},{"t":176,"v":-5},{"t":178,"v":4},{"t":180,"v":-4}],
    "d16": [{"t":0,"v":5},{"t":2,"v":-6},{"t":4,"v":5},{"t":6,"v":-5},{"t":8,"v":6},{"t":10,"v":-5},{"t":12,"v":7},{"t":14,"v":-6},{"t":16,"v":5},{"t":18,"v":-6},{"t":20,"v":6},{"t":22,"v":-5},{"t":24,"v":5},{"t":26,"v":-6},{"t":28,"v":4},{"t":30,"v":-5},{"t":32,"v":5},{"t":34,"v":-3},{"t":36,"v":4},{"t":38,"v":-5},{"t":39,"v":6},{"t":40,"v":-7},{"t":41,"v":6},{"t":42,"v":-7},{"t":43,"v":8},{"t":44,"v":-6},{"t":45,"v":7},{"t":46,"v":-6},{"t":47,"v":5},{"t":48,"v":-7},{"t":49,"v":6},{"t":50,"v":-5},{"t":51,"v":7},{"t":52,"v":-6},{"t":53,"v":5},{"t":54,"v":-7},{"t":55,"v":6},{"t":56,"v":-5},{"t":57,"v":6},{"t":58,"v":-7},{"t":59,"v":5},{"t":60,"v":-6},{"t":61,"v":7},{"t":62,"v":-5},{"t":63,"v":6},{"t":64,"v":-6},{"t":65,"v":5},{"t":66,"v":-6},{"t":67,"v":7},{"t":68,"v":-9},{"t":69,"v":11},{"t":70,"v":-12},{"t":71,"v":10},{"t":72,"v":-13},{"t":73,"v":12},{"t":74,"v":-14},{"t":75,"v":13},{"t":76,"v":-12},{"t":77,"v":15},{"t":78,"v":-14},{"t":79,"v":13},{"t":80,"v":-16},{"t":81,"v":17},{"t":82,"v":20},{"t":83,"v":-18},{"t":84,"v":16},{"t":85,"v":-15},{"t":86,"v":14},{"t":87,"v":-16},{"t":88,"v":13},{"t":89,"v":-12},{"t":90,"v":11},{"t":91,"v":-13},{"t":92,"v":10},{"t":93,"v":-9},{"t":94,"v":10},{"t":95,"v":-8},{"t":96,"v":9},{"t":97,"v":-7},{"t":98,"v":8},{"t":99,"v":-7},{"t":100,"v":6},{"t":102,"v":-6},{"t":104,"v":5},{"t":106,"v":-6},{"t":108,"v":6},{"t":110,"v":-5},{"t":112,"v":6},{"t":114,"v":-5},{"t":116,"v":5},{"t":118,"v":-6},{"t":120,"v":5},{"t":122,"v":-5},{"t":124,"v":6},{"t":126,"v":-5},{"t":128,"v":5},{"t":130,"v":-4},{"t":132,"v":5},{"t":134,"v":-5},{"t":136,"v":4},{"t":138,"v":-5},{"t":140,"v":5},{"t":142,"v":-4},{"t":144,"v":5},{"t":146,"v":-5},{"t":148,"v":4},{"t":150,"v":-5},{"t":152,"v":5},{"t":154,"v":-4},{"t":156,"v":5},{"t":158,"v":-5},{"t":160,"v":6},{"t":162,"v":-5},{"t":164,"v":6},{"t":166,"v":-6},{"t":168,"v":5},{"t":170,"v":-6},{"t":172,"v":7},{"t":174,"v":-6},{"t":176,"v":6},{"t":178,"v":-7},{"t":180,"v":5}],
    "d17": [{"t":0,"v":12},{"t":0,"v":-8},{"t":1,"v":2},{"t":2,"v":-2},{"t":4,"v":2},{"t":6,"v":-3},{"t":8,"v":2},{"t":10,"v":-2},{"t":12,"v":3},{"t":14,"v":-2},{"t":16,"v":2},{"t":18,"v":-2},{"t":20,"v":3},{"t":22,"v":-2},{"t":24,"v":2},{"t":26,"v":-3},{"t":28,"v":2},{"t":30,"v":-2},{"t":32,"v":2},{"t":34,"v":-2},{"t":36,"v":3},{"t":38,"v":-3},{"t":40,"v":3},{"t":41,"v":-5},{"t":42,"v":6},{"t":43,"v":-5},{"t":44,"v":5},{"t":45,"v":-6},{"t":46,"v":4},{"t":47,"v":-4},{"t":48,"v":3},{"t":50,"v":-3},{"t":52,"v":4},{"t":54,"v":-3},{"t":56,"v":3},{"t":58,"v":-3},{"t":60,"v":4},{"t":62,"v":-3},{"t":64,"v":3},{"t":66,"v":-4},{"t":68,"v":3},{"t":70,"v":-4},{"t":71,"v":4},{"t":72,"v":-5},{"t":73,"v":4},{"t":74,"v":-5},{"t":75,"v":5},{"t":76,"v":-4},{"t":77,"v":5},{"t":78,"v":-5},{"t":79,"v":4},{"t":80,"v":-5},{"t":81,"v":6},{"t":82,"v":-5},{"t":83,"v":6},{"t":84,"v":-7},{"t":85,"v":7},{"t":86,"v":-6},{"t":87,"v":5},{"t":88,"v":-6},{"t":89,"v":5},{"t":90,"v":-4},{"t":91,"v":5},{"t":92,"v":-4},{"t":94,"v":3},{"t":96,"v":-3},{"t":98,"v":3},{"t":100,"v":-3},{"t":102,"v":2},{"t":104,"v":-3},{"t":106,"v":3},{"t":108,"v":-2},{"t":110,"v":3},{"t":112,"v":-3},{"t":114,"v":2},{"t":116,"v":-2},{"t":118,"v":3},{"t":120,"v":-2},{"t":122,"v":2},{"t":124,"v":-3},{"t":126,"v":2},{"t":128,"v":-2},{"t":130,"v":3},{"t":132,"v":-2},{"t":134,"v":2},{"t":136,"v":-2},{"t":138,"v":2},{"t":140,"v":-3},{"t":142,"v":2},{"t":144,"v":-2},{"t":146,"v":3},{"t":148,"v":-2},{"t":150,"v":2},{"t":152,"v":-3},{"t":154,"v":2},{"t":156,"v":-2},{"t":158,"v":3},{"t":160,"v":-2},{"t":162,"v":2},{"t":164,"v":-3},{"t":166,"v":2},{"t":168,"v":-2},{"t":170,"v":3},{"t":172,"v":-2},{"t":174,"v":2},{"t":176,"v":-3},{"t":178,"v":2},{"t":180,"v":-2}]
  },
  "layer": [
    {"data": {"values": [{"a": 1}]}, "mark": {"type": "rule"}, "encoding": {"x": {"datum": -20.37, "type": "quantitative", "scale": {"domain": [-20.37, 180.3], "nice": false, "zero": false}}, "x2": {"datum": 180.3}, "y": {"datum": 0, "type": "quantitative", "scale": {"domain": [0, 18.451], "nice": false, "zero": false, "reverse": true}}}},
    {"data": {"values": [{"a": 1}]}, "mark": {"type": "rule"}, "encoding": {"x": {"datum": -20.37, "type": "quantitative"}, "x2": {"datum": 180.3}, "y": {"datum": 18, "type": "quantitative"}}},
    {"data": {"values": [{"a": 1}]}, "mark": {"type": "rule"}, "encoding": {"x": {"datum": -20.37, "type": "quantitative"}, "x2": {"datum": 180.3}, "y": {"datum": 18.451, "type": "quantitative"}}},
    {"data": {"values": [{"a": 1}]}, "mark": {"type": "rule"}, "encoding": {"x": {"datum": -20.37, "type": "quantitative"}, "y": {"datum": 0, "type": "quantitative"}, "y2": {"datum": 18.451}}},
    {"data": {"values": [{"a": 1}]}, "mark": {"type": "rule"}, "encoding": {"x": {"datum": 0, "type": "quantitative"}, "y": {"datum": 0, "type": "quantitative"}, "y2": {"datum": 18.451}}},
    {"data": {"values": [{"a": 1}]}, "mark": {"type": "rule"}, "encoding": {"x": {"datum": 180.3, "type": "quantitative"}, "y": {"datum": 0, "type": "quantitative"}, "y2": {"datum": 18.451}}},
    {"data": {"name": "labels"}, "transform": [{"filter": "datum.row > 0"}], "mark": {"type": "rule"}, "encoding": {"x": {"datum": -20.37, "type": "quantitative"}, "x2": {"datum": 0}, "y": {"field": "row", "type": "quantitative"}}},
    {"data": {"name": "minutes"}, "mark": {"type": "rule"}, "encoding": {"x": {"field": "s", "type": "quantitative"}, "y": {"datum": 18, "type": "quantitative"}, "y2": {"datum": 18.451}}},
    {"data": {"name": "ticks"}, "mark": {"type": "rule"}, "encoding": {"x": {"field": "s", "type": "quantitative"}, "y": {"datum": 18.37, "type": "quantitative"}, "y2": {"datum": 18.451}}},
    {"data": {"name": "minutes"}, "mark": {"type": "text", "align": "left", "baseline": "alphabetic", "dx": 2, "fontSize": 14}, "encoding": {"x": {"field": "s", "type": "quantitative"}, "y": {"datum": 18.37, "type": "quantitative"}, "text": {"field": "lab"}}},
    {"data": {"values": [{"lab": "minute"}]}, "mark": {"type": "text", "align": "left", "baseline": "alphabetic", "fontSize": 14.5}, "encoding": {"x": {"datum": -20.1, "type": "quantitative"}, "y": {"datum": 18.37, "type": "quantitative"}, "text": {"field": "lab"}}},
    {"data": {"name": "labels"}, "transform": [{"calculate": "datum.row + 0.5", "as": "y"}], "mark": {"type": "text", "align": "left", "baseline": "middle", "fontSize": 8}, "encoding": {"x": {"datum": -20.15, "type": "quantitative"}, "y": {"field": "y", "type": "quantitative"}, "text": {"field": "name"}}},
    {"data": {"name": "labels"}, "transform": [{"calculate": "datum.row + 0.16", "as": "y"}], "mark": {"type": "text", "align": "left", "baseline": "middle", "fontSize": 7}, "encoding": {"x": {"datum": 7.6, "type": "quantitative"}, "y": {"field": "y", "type": "quantitative"}, "text": {"field": "n"}}},
    {"data": {"name": "d0"}, "transform": [{"calculate": "0.5 - datum.v / 44.33", "as": "y"}], "mark": {"type": "line", "clip": true}, "encoding": {"x": {"field": "t", "type": "quantitative"}, "y": {"field": "y", "type": "quantitative"}}},
    {"data": {"name": "d1"}, "transform": [{"calculate": "1.5 - datum.v / 44.33", "as": "y"}], "mark": {"type": "line", "clip": true}, "encoding": {"x": {"field": "t", "type": "quantitative"}, "y": {"field": "y", "type": "quantitative"}}},
    {"data": {"name": "d2"}, "transform": [{"calculate": "2.5 - datum.v / 44.33", "as": "y"}], "mark": {"type": "line", "clip": true}, "encoding": {"x": {"field": "t", "type": "quantitative"}, "y": {"field": "y", "type": "quantitative"}}},
    {"data": {"name": "d3"}, "transform": [{"calculate": "3.5 - datum.v / 44.33", "as": "y"}], "mark": {"type": "line", "clip": true}, "encoding": {"x": {"field": "t", "type": "quantitative"}, "y": {"field": "y", "type": "quantitative"}}},
    {"data": {"name": "d4"}, "transform": [{"calculate": "4.5 - datum.v / 44.33", "as": "y"}], "mark": {"type": "line", "clip": true}, "encoding": {"x": {"field": "t", "type": "quantitative"}, "y": {"field": "y", "type": "quantitative"}}},
    {"data": {"name": "d5"}, "transform": [{"calculate": "5.5 - datum.v / 44.33", "as": "y"}], "mark": {"type": "line", "clip": true}, "encoding": {"x": {"field": "t", "type": "quantitative"}, "y": {"field": "y", "type": "quantitative"}}},
    {"data": {"name": "d6"}, "transform": [{"calculate": "6.5 - datum.v / 44.33", "as": "y"}], "mark": {"type": "line", "clip": true}, "encoding": {"x": {"field": "t", "type": "quantitative"}, "y": {"field": "y", "type": "quantitative"}}},
    {"data": {"name": "d7"}, "transform": [{"calculate": "7.5 - datum.v / 44.33", "as": "y"}], "mark": {"type": "line", "clip": true}, "encoding": {"x": {"field": "t", "type": "quantitative"}, "y": {"field": "y", "type": "quantitative"}}},
    {"data": {"name": "d8"}, "transform": [{"calculate": "8.5 - datum.v / 44.33", "as": "y"}], "mark": {"type": "line", "clip": true}, "encoding": {"x": {"field": "t", "type": "quantitative"}, "y": {"field": "y", "type": "quantitative"}}},
    {"data": {"name": "d9"}, "transform": [{"calculate": "9.5 - datum.v / 44.33", "as": "y"}], "mark": {"type": "line", "clip": true}, "encoding": {"x": {"field": "t", "type": "quantitative"}, "y": {"field": "y", "type": "quantitative"}}},
    {"data": {"name": "d10"}, "transform": [{"calculate": "10.5 - datum.v / 44.33", "as": "y"}], "mark": {"type": "line", "clip": true}, "encoding": {"x": {"field": "t", "type": "quantitative"}, "y": {"field": "y", "type": "quantitative"}}},
    {"data": {"name": "d11"}, "transform": [{"calculate": "11.5 - datum.v / 44.33", "as": "y"}], "mark": {"type": "line", "clip": true}, "encoding": {"x": {"field": "t", "type": "quantitative"}, "y": {"field": "y", "type": "quantitative"}}},
    {"data": {"name": "d12"}, "transform": [{"calculate": "12.5 - datum.v / 44.33", "as": "y"}], "mark": {"type": "line", "clip": true}, "encoding": {"x": {"field": "t", "type": "quantitative"}, "y": {"field": "y", "type": "quantitative"}}},
    {"data": {"name": "d13"}, "transform": [{"calculate": "13.5 - datum.v / 44.33", "as": "y"}], "mark": {"type": "line", "clip": true}, "encoding": {"x": {"field": "t", "type": "quantitative"}, "y": {"field": "y", "type": "quantitative"}}},
    {"data": {"name": "d14"}, "transform": [{"calculate": "14.5 - datum.v / 44.33", "as": "y"}], "mark": {"type": "line", "clip": true}, "encoding": {"x": {"field": "t", "type": "quantitative"}, "y": {"field": "y", "type": "quantitative"}}},
    {"data": {"name": "d15"}, "transform": [{"calculate": "15.5 - datum.v / 44.33", "as": "y"}], "mark": {"type": "line", "clip": true}, "encoding": {"x": {"field": "t", "type": "quantitative"}, "y": {"field": "y", "type": "quantitative"}}},
    {"data": {"name": "d16"}, "transform": [{"calculate": "16.5 - datum.v / 44.33", "as": "y"}], "mark": {"type": "line", "clip": true}, "encoding": {"x": {"field": "t", "type": "quantitative"}, "y": {"field": "y", "type": "quantitative"}}},
    {"data": {"name": "d17"}, "transform": [{"calculate": "17.5 - datum.v / 44.33", "as": "y"}], "mark": {"type": "line", "clip": true}, "encoding": {"x": {"field": "t", "type": "quantitative"}, "y": {"field": "y", "type": "quantitative"}}}
  ],
  "config": {
    "view": {"stroke": null},
    "axis": {"disable": true},
    "line": {"color": "#000", "strokeWidth": 0.8},
    "rule": {"color": "#a0a0a0", "strokeWidth": 1},
    "text": {"font": "Liberation Sans", "color": "#000"}
  }
}
